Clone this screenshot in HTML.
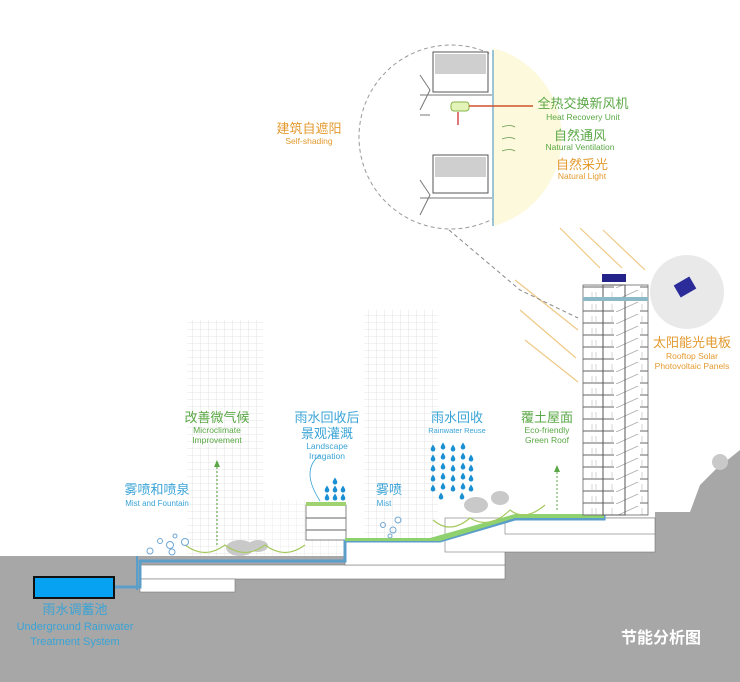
<!DOCTYPE html>
<html><head><meta charset="utf-8"><style>
html,body{margin:0;padding:0;background:#fff}
svg{display:block}
text{font-family:"Liberation Sans","Noto Sans CJK SC",sans-serif;text-anchor:middle}
.cb{fill:#3aa3d6}.cg{fill:#5aa845}.co{fill:#e39a2f}
</style></head><body>
<svg width="740" height="682" viewBox="0 0 740 682" xmlns="http://www.w3.org/2000/svg">
<defs>
<pattern id="grid" width="8" height="7" patternUnits="userSpaceOnUse">
<rect width="8" height="7" fill="#fff"/><path d="M0 0H8M0 0V7" stroke="#dcdcdc" stroke-width="0.8"/>
</pattern>
<pattern id="floors" width="66" height="12" patternUnits="userSpaceOnUse">
<rect width="66" height="12" fill="#fff"/>
<path d="M0 11H20M46 11H66" stroke="#666" stroke-width="1.1"/>
<path d="M22 12L44 2" stroke="#aaa" stroke-width="0.8"/>
<path d="M2 4V11M64 4V11M18 4V11M48 4V11" stroke="#bbb" stroke-width="0.6"/>
</pattern>
<g id="d"><path d="M0 -3.5Q2.3 0 2.3 1.2A2.3 2.3 0 0 1 -2.3 1.2Q-2.3 0 0 -3.5Z" fill="#1a8fd1"/></g>
</defs>

<!-- background towers -->
<rect x="187" y="320" width="76" height="236" fill="url(#grid)"/>
<rect x="364" y="310" width="74" height="230" fill="url(#grid)"/>
<rect x="263" y="500" width="80" height="56" fill="url(#grid)" opacity="0.7"/>

<!-- ground -->
<path d="M0 556H505V552H655V512L690 512L700 485L715 470L740 450V682H0Z" fill="#a7a7a7"/>
<!-- basements -->
<rect x="140" y="565" width="365" height="14" fill="#fff" stroke="#777" stroke-width="0.6"/>
<rect x="140" y="579" width="95" height="13" fill="#fff" stroke="#777" stroke-width="0.6"/>
<rect x="345" y="540" width="160" height="25" fill="#fff" stroke="#777" stroke-width="0.6"/>
<rect x="445" y="518" width="210" height="34" fill="#fff" stroke="#777" stroke-width="0.6"/>
<rect x="505" y="518" width="150" height="16" fill="#fff" stroke="#777" stroke-width="0.6"/>
<!-- small podium building -->
<rect x="306" y="505" width="40" height="35" fill="#fff" stroke="#666" stroke-width="0.8"/>
<path d="M306 518H346M306 530H346" stroke="#666"/>
<rect x="306" y="502" width="40" height="4" fill="#9ed36f"/>

<!-- pipes -->
<path d="M114 587H140V561H345V541H440L515 519H604V300" fill="none" stroke="#5b9ec9" stroke-width="3"/>
<path d="M137 556V590" stroke="#5b9ec9" stroke-width="2"/>
<!-- green roof slope -->
<path d="M345 538H430L515 514H604V518H515L440 541H345Z" fill="#8fd16e"/>
<!-- tank -->
<rect x="34" y="577" width="80" height="21" fill="#07a2f2" stroke="#111" stroke-width="2"/>

<!-- tall tower -->
<rect x="583" y="285" width="65" height="230" fill="url(#floors)" stroke="#666" stroke-width="0.8"/>
<rect x="603" y="285" width="22" height="230" fill="none" stroke="#555" stroke-width="1"/>
<rect x="602" y="274" width="24" height="8" fill="#23238a"/>
<rect x="583" y="297" width="65" height="4" fill="#8db8c6"/>

<!-- vegetation -->
<g fill="#c9c9c9">
<ellipse cx="240" cy="548" rx="14" ry="8"/><ellipse cx="258" cy="546" rx="10" ry="6"/>
<ellipse cx="476" cy="505" rx="12" ry="8"/><ellipse cx="500" cy="498" rx="9" ry="7"/>
<ellipse cx="720" cy="462" rx="8" ry="8"/>
</g>
<g fill="none" stroke="#a6c960" stroke-width="1.2">
<path d="M185 545Q205 560 225 545Q245 560 265 545Q285 560 305 545"/>
<path d="M433 520Q450 535 470 518Q490 530 510 510Q525 522 545 505"/>
</g>
<g fill="none" stroke="#6fa6d4" stroke-width="1">
<circle cx="160" cy="541" r="2.5"/><circle cx="170" cy="545" r="3.5"/><circle cx="175" cy="536" r="2"/><circle cx="185" cy="542" r="3.5"/><circle cx="172" cy="552" r="3"/><circle cx="150" cy="551" r="3"/>
<circle cx="383" cy="525" r="2.5"/><circle cx="393" cy="530" r="3"/><circle cx="398" cy="520" r="3"/><circle cx="390" cy="536" r="2"/>
</g>
<!-- dashed arrows -->
<g stroke="#5aa845" stroke-dasharray="2,2" stroke-width="1">
<path d="M217 545V465"/><path d="M557 510V470"/>
</g>
<path d="M214 467L217 460L220 467Z M554 472L557 465L560 472Z" fill="#5aa845"/>
<path d="M320 501Q300 470 320 455" fill="none" stroke="#3aa3d6" stroke-width="0.8"/>

<!-- rain drops -->
<g>
<use href="#d" x="433" y="448"/><use href="#d" x="443" y="446"/><use href="#d" x="453" y="448"/><use href="#d" x="463" y="446"/>
<use href="#d" x="433" y="458"/><use href="#d" x="443" y="456"/><use href="#d" x="453" y="458"/><use href="#d" x="463" y="456"/><use href="#d" x="471" y="458"/>
<use href="#d" x="433" y="468"/><use href="#d" x="443" y="466"/><use href="#d" x="453" y="468"/><use href="#d" x="463" y="466"/><use href="#d" x="471" y="468"/>
<use href="#d" x="433" y="478"/><use href="#d" x="443" y="476"/><use href="#d" x="453" y="478"/><use href="#d" x="463" y="476"/><use href="#d" x="471" y="478"/>
<use href="#d" x="433" y="488"/><use href="#d" x="443" y="486"/><use href="#d" x="453" y="488"/><use href="#d" x="463" y="486"/><use href="#d" x="471" y="488"/>
<use href="#d" x="441" y="496"/><use href="#d" x="462" y="496"/>
<use href="#d" x="335" y="481"/><use href="#d" x="327" y="489"/><use href="#d" x="335" y="489"/><use href="#d" x="343" y="489"/><use href="#d" x="327" y="497"/><use href="#d" x="335" y="497"/><use href="#d" x="343" y="497"/>
</g>

<!-- sun rays -->
<g stroke="#efc986" stroke-width="1.2">
<path d="M560 228L600 268M580 228L622 268M603 230L645 270"/>
<path d="M515 280L578 330M520 310L576 358M525 340L578 382"/>
<path d="M366 115L440 190M380 135L445 195M400 140L450 195"/>
</g>

<!-- detail circle -->
<circle cx="451" cy="137" r="92" fill="#fff" stroke="#999" stroke-dasharray="4,3"/>
<path d="M493 48A92 92 0 0 1 493 226Z" fill="#fcf9dc"/>
<path d="M493 50V226" stroke="#7bb3cf" stroke-width="1.5"/>
<rect x="433" y="52" width="55" height="40" fill="#fff" stroke="#555"/>
<rect x="435" y="54" width="51" height="20" fill="#cfcfcf"/>
<rect x="433" y="155" width="55" height="38" fill="#fff" stroke="#555"/>
<rect x="435" y="157" width="51" height="20" fill="#cfcfcf"/>
<path d="M420 95H492M420 115H430M420 198H492" stroke="#777"/>
<path d="M420 75L430 90L420 110M420 180L430 195L420 215" fill="none" stroke="#777"/>
<rect x="451" y="102" width="18" height="9" rx="3" fill="#e4f3b8" stroke="#8ab54a"/>
<path d="M469 106H533" stroke="#d0522d" stroke-width="1.5"/>
<path d="M458 112V125" stroke="#c22" stroke-width="1.2"/>
<g stroke="#6b9b4e" stroke-width="0.8" fill="none"><path d="M502 127Q510 124 515 127M502 139Q510 136 515 139M502 151Q510 148 515 151"/></g>
<path d="M449 230L520 290L578 318" fill="none" stroke="#888" stroke-dasharray="4,3"/>

<!-- PV circle -->
<circle cx="687" cy="292" r="37" fill="#e9e9e9"/>
<rect x="676" y="280" width="18" height="14" fill="#2b2b9a" transform="rotate(-30 685 287)"/>

<!-- labels -->
<text x="75" y="614" font-size="13" class="cb">雨水调蓄池</text>
<text x="75" y="630" font-size="11" class="cb">Underground Rainwater</text>
<text x="75" y="645" font-size="11" class="cb">Treatment System</text>
<text x="157" y="494" font-size="13" class="cb">雾喷和喷泉</text>
<text x="157" y="506" font-size="8" class="cb">Mist and Fountain</text>
<text x="217" y="422" font-size="13" class="cg">改善微气候</text>
<text x="217" y="433" font-size="8.5" class="cg">Microclimate</text>
<text x="217" y="443" font-size="8.5" class="cg">Improvement</text>
<text x="327" y="422" font-size="13" class="cb">雨水回收后</text>
<text x="327" y="438" font-size="13" class="cb">景观灌溉</text>
<text x="327" y="449" font-size="8.5" class="cb">Landscape</text>
<text x="327" y="459" font-size="8.5" class="cb">Irragation</text>
<text x="389" y="494" font-size="13" class="cb">雾喷</text>
<text x="384" y="506" font-size="8" class="cb">Mist</text>
<text x="457" y="422" font-size="13" class="cb">雨水回收</text>
<text x="457" y="433" font-size="7.5" class="cb">Rainwater Reuse</text>
<text x="547" y="422" font-size="13" class="cg">覆土屋面</text>
<text x="547" y="433" font-size="8.5" class="cg">Eco-friendly</text>
<text x="547" y="443" font-size="8.5" class="cg">Green Roof</text>
<text x="692" y="347" font-size="13" class="co">太阳能光电板</text>
<text x="692" y="359" font-size="8.5" class="co">Rooftop Solar</text>
<text x="692" y="369" font-size="8.5" class="co">Photovoltaic Panels</text>
<text x="309" y="133" font-size="13" class="co">建筑自遮阳</text>
<text x="309" y="144" font-size="8.5" class="co">Self-shading</text>
<text x="583" y="108" font-size="13" class="cg">全热交换新风机</text>
<text x="583" y="120" font-size="8.5" class="cg">Heat Recovery Unit</text>
<text x="580" y="140" font-size="13" class="cg">自然通风</text>
<text x="580" y="150" font-size="8.5" class="cg">Natural Ventilation</text>
<text x="582" y="169" font-size="13" class="co">自然采光</text>
<text x="582" y="179" font-size="8.5" class="co">Natural Light</text>
<text x="661" y="643" font-size="16" font-weight="bold" fill="#fff">节能分析图</text>
</svg>
</body></html>
